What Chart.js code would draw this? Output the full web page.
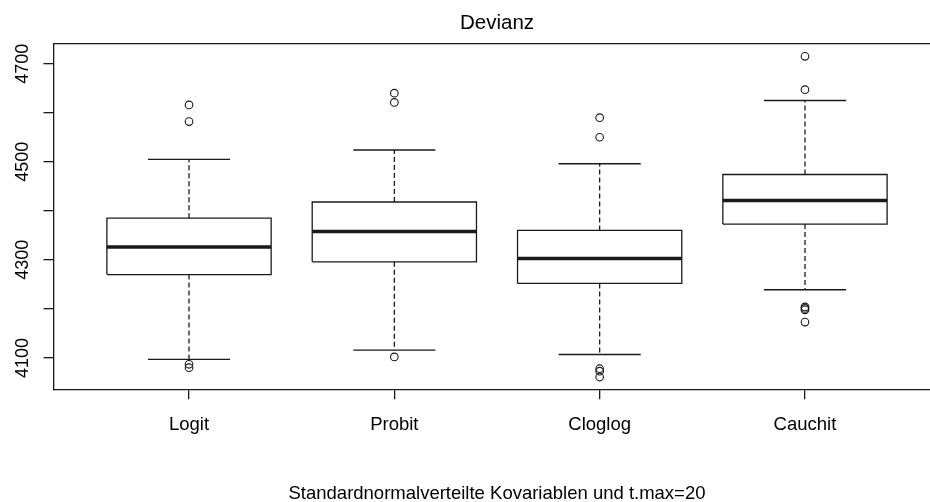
<!DOCTYPE html>
<html>
<head>
<meta charset="utf-8">
<title>Devianz</title>
<script src="https://cdn.jsdelivr.net/npm/chart.js@4.4.1/dist/chart.umd.min.js"></script>
<style>
  html, body { margin: 0; padding: 0; background: #fff; overflow: hidden; }
</style>
</head>
<body>
<canvas id="devianzChart" width="946" height="502"></canvas>
<script>
// Boxplot summary per link function
const groups = ['Logit', 'Probit', 'Cloglog', 'Cauchit'];
const lowerWhisker = [4097, 4116, 4107, 4239];
const lowerQuartile = [4270, 4296, 4252, 4373];
const medians = [4326, 4358, 4303, 4421];
const upperQuartile = [4385, 4418, 4360, 4474];
const upperWhisker = [4505, 4524, 4496, 4625];
const outliers = [
  [4616, 4582, 4087, 4080],
  [4640, 4621, 4102],
  [4590, 4550, 4078, 4073, 4061],
  [4715, 4647, 4204, 4201, 4198, 4173]
];
const yTicks = [4100, 4200, 4300, 4400, 4500, 4600, 4700];

const boxHalf = 0.4;    // boxwex 0.8
const stapleHalf = 0.2; // staple half the box width
const fontFamily = "'Liberation Sans', Arial, sans-serif";
const ink = '#1a1a1a';

// build line segments, separated by null points
const boxPts = [], medianPts = [], whiskerPts = [], staplePts = [], outlierPts = [];
groups.forEach(function(g, i) {
  const x = i + 1;
  boxPts.push(
    {x: x - boxHalf, y: lowerQuartile[i]}, {x: x + boxHalf, y: lowerQuartile[i]},
    {x: x + boxHalf, y: upperQuartile[i]}, {x: x - boxHalf, y: upperQuartile[i]},
    {x: x - boxHalf, y: lowerQuartile[i]}, {x: x, y: null}
  );
  medianPts.push({x: x - boxHalf, y: medians[i]}, {x: x + boxHalf, y: medians[i]}, {x: x, y: null});
  whiskerPts.push(
    {x: x, y: upperQuartile[i]}, {x: x, y: upperWhisker[i]}, {x: x, y: null},
    {x: x, y: lowerQuartile[i]}, {x: x, y: lowerWhisker[i]}, {x: x, y: null}
  );
  staplePts.push(
    {x: x - stapleHalf, y: upperWhisker[i]}, {x: x + stapleHalf, y: upperWhisker[i]}, {x: x, y: null},
    {x: x - stapleHalf, y: lowerWhisker[i]}, {x: x + stapleHalf, y: lowerWhisker[i]}, {x: x, y: null}
  );
  outliers[i].forEach(function(v) { outlierPts.push({x: x, y: v}); });
});

function lineSet(data, width, dash) {
  return {
    type: 'line',
    data: data,
    borderColor: ink,
    borderWidth: width,
    borderDash: dash || [],
    borderCapStyle: 'butt',
    pointRadius: 0,
    tension: 0,
    spanGaps: false
  };
}

new Chart('devianzChart', {
  type: 'line',
  data: {
    datasets: [
      lineSet(whiskerPts, 1.3, [5, 3]),
      lineSet(staplePts, 1.3),
      lineSet(boxPts, 1.3),
      lineSet(medianPts, 3.5),
      {
        type: 'scatter',
        data: outlierPts,
        showLine: false,
        pointRadius: 3.8,
        pointBorderWidth: 1.1,
        pointBorderColor: ink,
        pointBackgroundColor: 'rgba(0,0,0,0)'
      }
    ]
  },
  options: {
    responsive: false,
    animation: false,
    events: [],
    layout: { padding: { left: 0, right: 5.5, top: 0, bottom: 0 } },
    plugins: {
      legend: { display: false },
      tooltip: { enabled: false },
      title: {
        display: true,
        text: 'Devianz',
        fullSize: false,
        color: '#000',
        font: { family: fontFamily, size: 20.5, weight: 'normal' },
        padding: { top: 11, bottom: 8 }
      },
      subtitle: {
        display: true,
        position: 'bottom',
        text: 'Standardnormalverteilte Kovariablen und t.max=20',
        fullSize: false,
        color: '#000',
        font: { family: fontFamily, size: 18.5 },
        padding: { top: 3, bottom: -3 }
      }
    },
    scales: {
      x: {
        type: 'linear',
        min: 0.34,
        max: 4.66,
        afterBuildTicks: function(scale) {
          scale.ticks = groups.map(function(g, i) { return {value: i + 1}; });
        },
        afterFit: function(scale) { scale.height = 502 - 22.2 - 389.3; },
        ticks: {
          color: '#000',
          padding: 15,
          maxRotation: 0,
          font: { family: fontFamily, size: 18.5 },
          callback: function(v) { return groups[v - 1]; }
        },
        grid: { drawOnChartArea: false, drawTicks: true, tickLength: 10, color: ink, lineWidth: 1.3 },
        border: { display: true, color: ink, width: 1.3 }
      },
      top: {
        type: 'linear',
        position: 'top',
        min: 0.34,
        max: 4.66,
        ticks: { display: false },
        grid: { display: false },
        afterFit: function(scale) { scale.height = 0; },
        border: { display: true, color: ink, width: 1.3 }
      },
      y: {
        type: 'linear',
        min: 4036,
        max: 4741,
        afterBuildTicks: function(scale) {
          scale.ticks = yTicks.map(function(v) { return {value: v}; });
        },
        afterFit: function(scale) { scale.width = 53.5; },
        ticks: {
          color: '#000',
          padding: 0,
          minRotation: 90,
          maxRotation: 90,
          crossAlign: 'center',
          font: { family: fontFamily, size: 18 },
          // every second tick is left unlabelled
          callback: function(v) { return (v - 4100) % 200 === 0 ? String(v) : ''; }
        },
        grid: { drawOnChartArea: false, drawTicks: true, tickLength: 10, color: ink, lineWidth: 1.3 },
        border: { display: true, color: ink, width: 1.3 }
      }
    }
  }
});
</script>
</body>
</html>
